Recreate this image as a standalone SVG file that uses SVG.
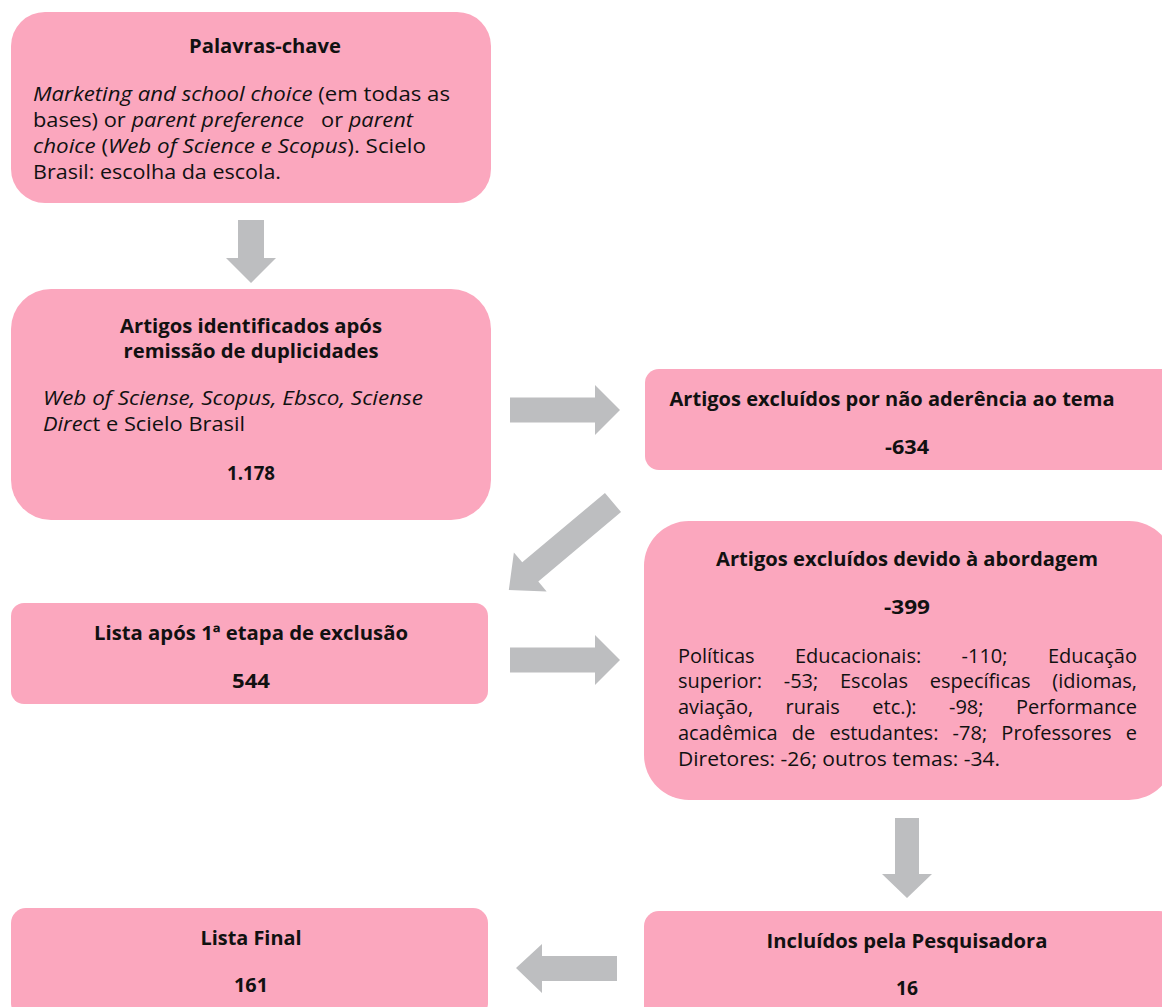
<svg xmlns="http://www.w3.org/2000/svg" width="1162" height="1007" viewBox="0 0 1162 1007">
<style>
.box{fill:#FBA7BE}
.arr{fill:#BDBEC0}
.t{font-family:"Open Sans","Noto Sans",sans-serif;font-size:20px;font-weight:700;fill:#111;text-anchor:middle}
.b{font-family:"Open Sans","Noto Sans",sans-serif;font-size:20px;fill:#111;white-space:pre}
.i{font-style:italic}
</style>
<defs>
<polygon id="rarrow" points="0,-12.5 85,-12.5 85,-25 110,0 85,25 85,12.5 0,12.5"/>
</defs>
<g id="connectors">
<polygon class="arr" points="238,220 264,220 264,258 276,258 251,283 226,258 238,258"/>
<use href="#rarrow" class="arr" transform="translate(510,410)"/>
<polygon class="arr" points="0,-12.5 108,-12.5 108,-25.5 136,0 108,25.5 108,12.5 0,12.5" transform="translate(613,502.5) rotate(140)"/>
<use href="#rarrow" class="arr" transform="translate(510,660)"/>
<polygon class="arr" points="895,818 919,818 919,874 932,874 907,898 882,874 895,874"/>
<polygon class="arr" points="617,956 542,956 542,944 516,968 542,993 542,981 617,981"/>
</g>
<g id="n1">
<rect class="box" x="11" y="12" width="480" height="191" rx="34"/>
<text class="t" x="265" y="53" textLength="152" lengthAdjust="spacingAndGlyphs">Palavras-chave</text>
<text class="b" x="33" y="101" textLength="417" lengthAdjust="spacingAndGlyphs"><tspan class="i">Marketing and school choice</tspan> (em todas as</text>
<text class="b" x="33" y="127" textLength="380" lengthAdjust="spacingAndGlyphs">bases) or <tspan class="i">parent preference</tspan>   or <tspan class="i">parent</tspan></text>
<text class="b" x="33" y="153" textLength="393" lengthAdjust="spacingAndGlyphs"><tspan class="i">choice</tspan> (<tspan class="i">Web of Science e Scopus</tspan>). Scielo</text>
<text class="b" x="33" y="179" textLength="248" lengthAdjust="spacingAndGlyphs">Brasil: escolha da escola.</text>
</g>
<g id="n2">
<rect class="box" x="11" y="289" width="480" height="231" rx="40"/>
<text class="t" x="251" y="333" textLength="262" lengthAdjust="spacingAndGlyphs">Artigos identificados após</text>
<text class="t" x="251" y="358" textLength="255" lengthAdjust="spacingAndGlyphs">remissão de duplicidades</text>
<text class="b i" x="43" y="405" textLength="380" lengthAdjust="spacingAndGlyphs">Web of Sciense, Scopus, Ebsco, Sciense</text>
<text class="b" x="43" y="431" textLength="202" lengthAdjust="spacingAndGlyphs"><tspan class="i">Direc</tspan>t e Scielo Brasil</text>
<text class="t" x="251" y="480" textLength="48" lengthAdjust="spacingAndGlyphs">1.178</text>
</g>
<g id="n3">
<rect class="box" x="645" y="369" width="530" height="101" rx="14"/>
<text class="t" x="892" y="406" textLength="445" lengthAdjust="spacingAndGlyphs">Artigos excluídos por não aderência ao tema</text>
<text class="t" x="907" y="454" textLength="44" lengthAdjust="spacingAndGlyphs">-634</text>
</g>
<g id="n4">
<rect class="box" x="11" y="603" width="477" height="101" rx="13"/>
<text class="t" x="251" y="640" textLength="314" lengthAdjust="spacingAndGlyphs">Lista após 1ª etapa de exclusão</text>
<text class="t" x="251" y="688" textLength="38" lengthAdjust="spacingAndGlyphs">544</text>
</g>
<g id="n5">
<rect class="box" x="644" y="521" width="530" height="279" rx="45"/>
<text class="t" x="907" y="566" textLength="382" lengthAdjust="spacingAndGlyphs">Artigos excluídos devido à abordagem</text>
<text class="t" x="907" y="614" textLength="46" lengthAdjust="spacingAndGlyphs">-399</text>
<text class="b" x="678" y="663" word-spacing="35.2" textLength="459" lengthAdjust="spacing">Políticas Educacionais: -110; Educação</text>
<text class="b" x="678" y="688" word-spacing="16.5" textLength="459" lengthAdjust="spacing">superior: -53; Escolas específicas (idiomas,</text>
<text class="b" x="678" y="714" word-spacing="27.2" textLength="459" lengthAdjust="spacing">aviação, rurais etc.): -98; Performance</text>
<text class="b" x="678" y="740" word-spacing="9" textLength="459" lengthAdjust="spacing">acadêmica de estudantes: -78; Professores e</text>
<text class="b" x="678" y="766" textLength="322" lengthAdjust="spacingAndGlyphs">Diretores: -26; outros temas: -34.</text>
</g>
<g id="n6">
<rect class="box" x="644" y="911" width="530" height="110" rx="15"/>
<text class="t" x="907" y="948" textLength="281" lengthAdjust="spacingAndGlyphs">Incluídos pela Pesquisadora</text>
<text class="t" x="907" y="995" textLength="22" lengthAdjust="spacingAndGlyphs">16</text>
</g>
<g id="n7">
<rect class="box" x="11" y="908" width="477" height="110" rx="15"/>
<text class="t" x="251" y="945" textLength="101" lengthAdjust="spacingAndGlyphs">Lista Final</text>
<text class="t" x="251" y="992" textLength="34" lengthAdjust="spacingAndGlyphs">161</text>
</g>
</svg>
